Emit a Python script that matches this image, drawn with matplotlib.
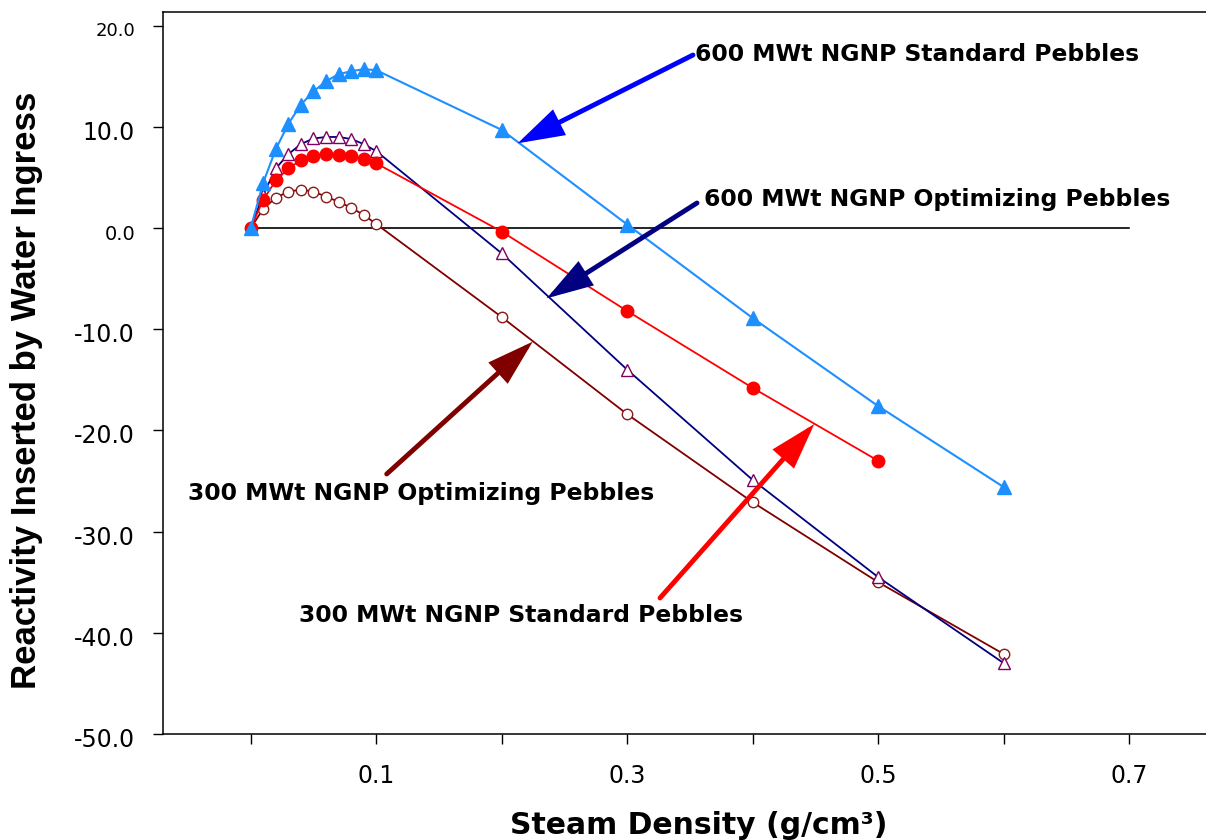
import matplotlib
matplotlib.use("Agg")
import matplotlib.pyplot as plt

W, H, DPI = 1206, 840, 100

# ---- data ----
density = [0.0, 0.01, 0.02, 0.03, 0.04, 0.05, 0.06, 0.07, 0.08, 0.09, 0.10,
           0.2, 0.3, 0.4, 0.5, 0.6]
std600 = [0.0, 4.5, 7.8, 10.3, 12.2, 13.5, 14.5, 15.2, 15.5, 15.7, 15.6,
          9.7, 0.35, -8.9, -17.6, -25.6]
opt600 = [0.0, 3.3, 5.9, 7.3, 8.3, 8.85, 9.0, 9.0, 8.8, 8.3, 7.6,
          -2.5, -14.0, -24.9, -34.5, -43.0]
std300_density = density[:15]
std300 = [0.0, 2.8, 4.7, 5.9, 6.7, 7.1, 7.3, 7.25, 7.1, 6.8, 6.4,
          -0.35, -8.2, -15.8, -23.0]
opt300 = [0.0, 1.9, 3.0, 3.6, 3.8, 3.6, 3.1, 2.6, 2.0, 1.3, 0.4,
          -8.8, -18.4, -27.1, -35.0, -42.1]

xticks = [0.0, 0.1, 0.2, 0.3, 0.4, 0.5, 0.6, 0.7]
xtick_labels = ["", "0.1", "", "0.3", "", "0.5", "", "0.7"]
yticks = [20, 10, 0, -10, -20, -30, -40, -50]
ytick_labels = ["20.0", "10.0", "0.0", "-10.0", "-20.0", "-30.0", "-40.0", "-50.0"]

labels = ["600 MWt NGNP Standard Pebbles", "600 MWt NGNP Optimizing Pebbles",
          "300 MWt NGNP Optimizing Pebbles", "300 MWt NGNP Standard Pebbles"]

# ---- figure ----
fig = plt.figure(figsize=(W / DPI, H / DPI), dpi=DPI)
ax = fig.add_axes([163 / W, 1 - 734 / H, 1 - 163 / W, (734 - 12) / H])
ax.set_xlim(-0.0699, 0.7612)
ax.set_ylim(-50, 21.35)

for s in ["left", "bottom", "top"]:
    ax.spines[s].set_linewidth(1.1)
ax.spines["right"].set_visible(False)

ax.set_xticks(xticks)
ax.set_xticklabels([])
ax.set_yticks(yticks)
ax.set_yticklabels([])
ax.tick_params(direction="out", length=7, width=1.0)

# zero line
ax.plot([0, 0.7], [0, 0], color="black", lw=1.2, zorder=1)

# series
ax.plot(density, opt300, color="#800000", lw=1.3, marker="o", ms=7.5,
        mfc="white", mec="#8B1A1A", mew=1.0, zorder=2)
ax.plot(density, opt600, color="#000080", lw=1.3, marker="^", ms=9,
        mfc="white", mec="#800060", mew=1.0, zorder=3)
ax.plot(std300_density, std300, color="#FF0000", lw=1.3, marker="o", ms=9,
        mfc="#FF0000", mec="#FF0000", zorder=4)
ax.plot(density, std600, color="#1E8FFF", lw=1.5, marker="^", ms=10,
        mfc="#1E8FFF", mec="#1E8FFF", zorder=5)


def px2data(xp, yp):
    inv = ax.transData.inverted()
    return inv.transform((xp, H - yp))


def arrow(tail_px, tip_px, color):
    tail = px2data(*tail_px)
    tip = px2data(*tip_px)
    ax.annotate("", xy=tip, xytext=tail, xycoords="data", textcoords="data",
                arrowprops=dict(arrowstyle="-|>,head_length=2.6,head_width=0.8",
                                mutation_scale=10, lw=3.5, color=color,
                                shrinkA=0, shrinkB=0, joinstyle="miter"),
                zorder=6)


arrow((693, 55), (517.7, 143.3), "#0000FF")
arrow((697, 203), (546.7, 298.3), "#000080")
arrow((386.7, 474), (532.7, 341.7), "#800000")
arrow((660, 598), (814.3, 424), "#FF0000")

LBL = dict(family="DejaVu Sans", fontweight="bold", fontsize=16.9, color="black")
fig.text(695 / W, 1 - 61 / H, labels[0], ha="left", va="baseline", **LBL)
fig.text(704 / W, 1 - 206 / H, labels[1], ha="left", va="baseline", **LBL)
fig.text(188 / W, 1 - 500 / H, labels[2], ha="left", va="baseline", **LBL)
fig.text(299 / W, 1 - 622 / H, labels[3], ha="left", va="baseline", **LBL)

# tick labels
TICKF = dict(family="DejaVu Sans", color="black")
for v, t in zip(xticks, xtick_labels):
    if t:
        xp = ax.transData.transform((v, 0))[0]
        fig.text(xp / W, 1 - 783 / H, t, ha="center", va="baseline",
                 fontsize=17, **TICKF)
for v, t in zip(yticks, ytick_labels):
    yp = H - ax.transData.transform((0, v))[1]
    size = 17
    off = 13
    if t == "20.0":
        size, off = 13, 10
    elif t == "0.0":
        size, off = 14, 11.5
    fig.text(135 / W, 1 - (yp + off) / H, t, ha="right", va="baseline",
             fontsize=size, **TICKF)

fig.text(699 / W, 1 - 834 / H, "Steam Density (g/cm³)", ha="center",
         va="baseline", family="DejaVu Sans", fontweight="bold", fontsize=21.5)
fig.text(43 / W, 1 - 390 / H, "Reactivity Inserted by Water Ingress",
         rotation=90, ha="right", va="center", family="Liberation Sans",
         fontweight="bold", fontsize=25)

fig.savefig("out.png", dpi=DPI)
